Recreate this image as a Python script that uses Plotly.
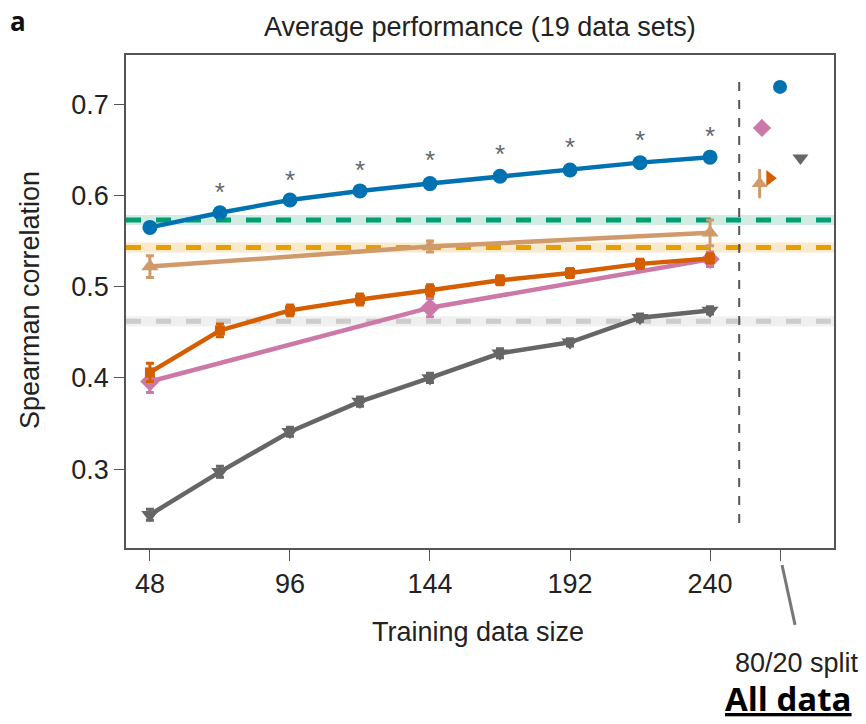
import plotly.graph_objects as go

# ---- data ----
sizes = [48, 72, 96, 120, 144, 168, 192, 216, 240]
sizes_sparse = [48, 144, 240]

blue_y = [0.565, 0.581, 0.595, 0.605, 0.613, 0.621, 0.628, 0.636, 0.642]
blue_err = [0.004, 0.003, 0.003, 0.003, 0.003, 0.003, 0.003, 0.003, 0.003]
orange_y = [0.406, 0.452, 0.474, 0.486, 0.496, 0.507, 0.515, 0.525, 0.531]
orange_err = [0.010, 0.007, 0.006, 0.006, 0.006, 0.005, 0.005, 0.005, 0.005]
gray_y = [0.250, 0.297, 0.341, 0.374, 0.400, 0.427, 0.439, 0.466, 0.474]
gray_err = [0.006, 0.006, 0.005, 0.005, 0.005, 0.005, 0.004, 0.004, 0.004]
tan_y = [0.522, 0.544, 0.559]
tan_err = [0.012, 0.006, 0.014]
pink_y = [0.396, 0.477, 0.530]
pink_err = [0.012, 0.010, 0.008]

star_x = [72, 96, 120, 144, 168, 192, 216, 240]
star_y = [0.601, 0.614, 0.625, 0.636, 0.643, 0.650, 0.658, 0.663]

# horizontal reference levels
green_level = 0.573
gold_level = 0.543
lightgray_level = 0.462

# "all data" 80/20 split results
split_x = [264, 257.8, 271, 257, 260.5]
split_y = [0.719, 0.674, 0.641, 0.613, 0.619]
split_err = [0, 0, 0, 0.016, 0]
split_colors = ["#0072B2", "#CC79A7", "#666666", "#D09A6A", "#D55E00"]
split_symbols = ["circle", "diamond", "triangle-down", "triangle-up", "triangle-right"]

xtick_vals = [48, 96, 144, 192, 240, 264]
xtick_text = ["48", "96", "144", "192", "240", ""]
ytick_vals = [0.3, 0.4, 0.5, 0.6, 0.7]
ytick_text = ["0.3", "0.4", "0.5", "0.6", "0.7"]
split_line_x = 250

BLUE = "#0072B2"
ORANGE = "#D55E00"
GRAY = "#666666"
TAN = "#D09A6A"
PINK = "#CC79A7"
GREEN = "#009E73"
GOLD = "#E69F00"
FONT = "Liberation Sans"
FS = 27

fig = go.Figure()

# horizontal reference bands + dashed lines
for lvl, band, col in [(green_level, "#d3ece3", GREEN),
                       (gold_level, "#f9eace", GOLD),
                       (lightgray_level, "#f0f0f0", "#cccccc")]:
    fig.add_shape(type="line", xref="paper", yref="y", x0=0, x1=1, y0=lvl, y1=lvl,
                  line=dict(color=band, width=10), layer="below")
    fig.add_shape(type="line", xref="paper", yref="y", x0=0, x1=1, y0=lvl, y1=lvl,
                  line=dict(color=col, width=5, dash="dash"), layer="below")

# vertical split line
fig.add_shape(type="line", xref="x", yref="y", x0=split_line_x, x1=split_line_x,
              y0=0.241, y1=0.728, line=dict(color="#555555", width=2, dash="dash"))


def series(x, y, err, color, symbol, size):
    fig.add_trace(go.Scatter(
        x=x, y=y, mode="lines+markers",
        line=dict(color=color, width=4.5),
        marker=dict(color=color, symbol=symbol, size=size),
        error_y=dict(type="data", array=err, color=color, thickness=3, width=4),
        showlegend=False, cliponaxis=False))


series(sizes, gray_y, gray_err, GRAY, "triangle-down", 15)
series(sizes_sparse, pink_y, pink_err, PINK, "diamond", 15)
series(sizes, orange_y, orange_err, ORANGE, "square", 10)
series(sizes_sparse, tan_y, tan_err, TAN, "triangle-up", 15)
series(sizes, blue_y, blue_err, BLUE, "circle", 15)

# significance asterisks
fig.add_trace(go.Scatter(x=star_x, y=star_y, mode="text", text=["*"] * len(star_x),
                         textfont=dict(family=FONT, size=26, color=GRAY),
                         showlegend=False))

# 80/20 split markers
for xx, yy, ee, cc, ss in zip(split_x, split_y, split_err, split_colors, split_symbols):
    fig.add_trace(go.Scatter(
        x=[xx], y=[yy], mode="markers",
        marker=dict(color=cc, symbol=ss, size=14),
        error_y=dict(type="data", array=[ee], color=cc, thickness=3, width=0, visible=ee > 0),
        showlegend=False))

fig.update_layout(
    width=866, height=724,
    margin=dict(l=126, r=32, t=55, b=176),
    paper_bgcolor="white", plot_bgcolor="white",
    font=dict(family=FONT, size=FS, color="#222222"),
    xaxis=dict(range=[39.8, 282.5], tickvals=xtick_vals, ticktext=xtick_text,
               showgrid=False, zeroline=False, showline=True, linecolor="#555555",
               linewidth=1.5, mirror=True, ticks="outside", ticklen=11,
               tickcolor="#555555", tickfont=dict(size=FS, color="#222222")),
    yaxis=dict(range=[0.2135, 0.754], tickvals=ytick_vals, ticktext=ytick_text,
               showgrid=False, zeroline=False, showline=True, linecolor="#555555",
               linewidth=1.5, mirror=True, ticks="outside", ticklen=10,
               tickcolor="#555555", tickfont=dict(size=FS, color="#222222")),
    annotations=[
        dict(text="Average performance (19 data sets)", xref="paper", yref="paper",
             x=0.5, y=1.057, xanchor="center", yanchor="middle", showarrow=False,
             font=dict(size=FS, color="#222222")),
        dict(text="<b>a</b>", xref="paper", yref="paper", x=-0.153, y=1.069,
             xanchor="center", yanchor="middle", showarrow=False,
             font=dict(size=26, color="#111111", family="Open Sans")),
        dict(text="Training data size", xref="paper", yref="paper", x=0.497, y=-0.170,
             xanchor="center", yanchor="middle", showarrow=False,
             font=dict(size=FS, color="#222222")),
        dict(text="Spearman correlation", xref="paper", yref="paper", x=-0.1356, y=0.503,
             xanchor="center", yanchor="middle", showarrow=False, textangle=-90,
             font=dict(size=FS, color="#222222")),
        dict(text="80/20 split", xref="paper", yref="paper", x=0.948, y=-0.233,
             xanchor="center", yanchor="middle", showarrow=False,
             font=dict(size=FS, color="#222222")),
        dict(text="<b><u>All data</u></b>", xref="paper", yref="paper", x=1.028, y=-0.306,
             xanchor="right", yanchor="middle", showarrow=False,
             font=dict(size=33, color="#000000", family="Open Sans")),
    ],
)

fig.add_shape(type="line", xref="paper", yref="paper", x0=0.9266, x1=0.945,
              y0=-0.0345, y1=-0.156, line=dict(color="#777777", width=3))

fig.write_html("out.html")
